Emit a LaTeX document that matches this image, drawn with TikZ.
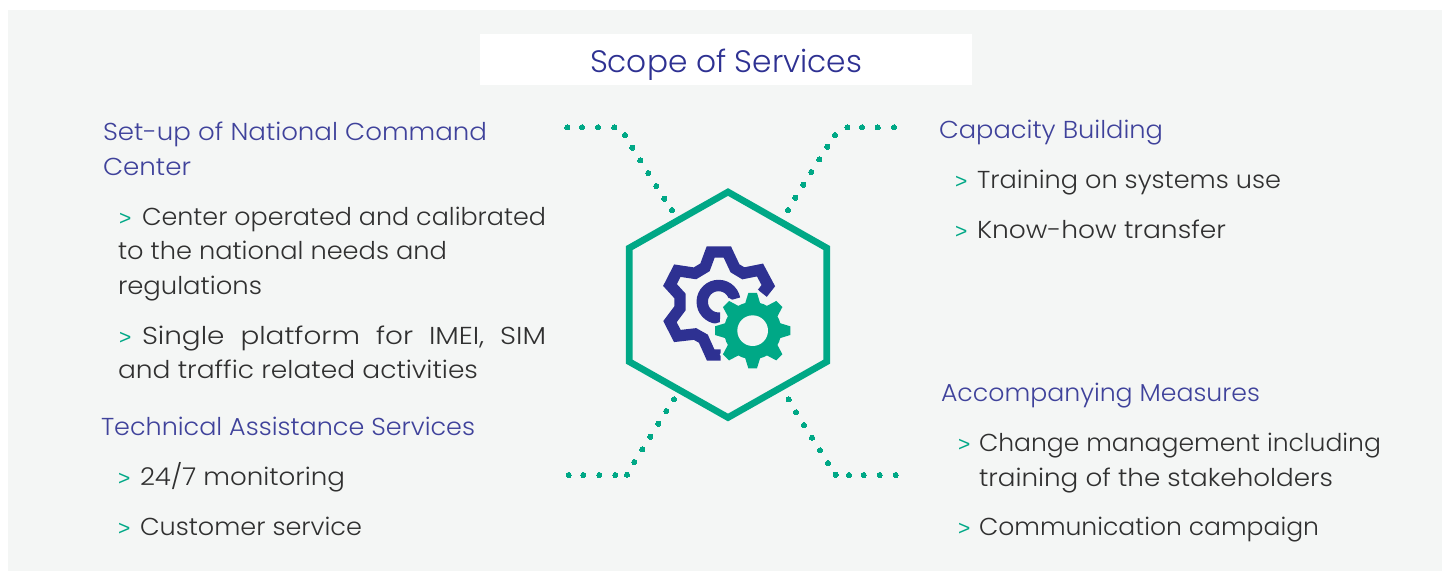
\documentclass[tikz,border=0pt]{standalone}
\usepackage{fontspec}
\setmainfont{Poppins}[UprightFont=* Light]
\newfontfamily\arrfont{Liberation Sans}
\definecolor{panel}{HTML}{F4F6F5}
\definecolor{teal}{HTML}{00A886}
\definecolor{navy}{HTML}{2E3192}
\definecolor{headc}{HTML}{3F429B}
\definecolor{ink}{HTML}{303030}
\newcommand{\fitw}[2]{\resizebox{#1pt}{\height}{#2}}
\tikzset{
  x=1pt,y=-1pt,
  txt/.style={anchor=base west,inner sep=0pt,outer sep=0pt,text=ink,font=\fontsize{24.5}{28}\selectfont},
  head/.style={txt,text=headc},
  arr/.style={anchor=base west,inner sep=0pt,outer sep=0pt,text=teal,font=\arrfont\fontsize{21}{24}\selectfont},
  dots/.style={teal,only marks,mark=*,mark size=2.6pt,mark options={draw=teal,fill=teal,line width=0pt}},
}
\begin{document}
\begin{tikzpicture}
\useasboundingbox (0,0) rectangle (1450,571);
\fill[white] (0,0) rectangle (1450,571);
\fill[panel] (8,10) rectangle (1442,571);
\fill[white] (480,34) rectangle (972,85);
\node[anchor=base,inner sep=0pt,text=navy,font=\fontsize{31}{36}\selectfont] (title) at (726,72) {\fitw{272}{Scope of Services}};

% hexagon
\draw[teal,line width=6.7pt,miter limit=10] (728,192) -- (826.7,248) -- (826.7,361.7) -- (728,417.5) -- (629.3,361.7) -- (629.3,248) -- cycle;

% dotted connectors
\draw[dots] plot coordinates {(567.3,127.3) (582,127.3) (598,127.3) (614.3,127.3) (625,135) (632.3,147.7) (640.3,160.3) (648.3,173) (656.3,186) (664.3,198.7) (672,210)};
\draw[dots] plot coordinates {(894,127.3) (877.7,127.3) (862,127.3) (847.3,127.3) (835,135) (827.3,146.7) (819.3,159.3) (811.3,172) (803.3,184.7) (795.3,197.7) (788,210)};
\draw[dots] plot coordinates {(568.7,475) (583.3,475) (599.3,475) (615.3,475) (627,474.7) (634.3,462) (642.3,449.3) (650.3,436.7) (658.3,423.7) (666.3,411) (674,399.3)};
\draw[dots] plot coordinates {(788.7,399.3) (796,412.3) (804,425) (812,437.7) (820,450.3) (828,463) (835.7,474.7) (849,475) (863.7,475) (879.7,475) (895.7,475)};

% gears
\begin{scope}[shift={(620,180)},x=0.3333pt,y=-0.3333pt]
\draw[navy,line width=11.4pt,miter limit=6]
 (302,525) -- (272,525) -- (250,476) -- (225,462) -- (172,468) -- (150,425) -- (180,385) -- (180,348) -- (150,315) -- (172,272) -- (225,280) -- (255,262) -- (272,216) -- (322,216) -- (345,265) -- (370,280) -- (420,270) -- (445,317) -- (427,340);
\draw[navy,line width=11.4pt] (344,357) arc[start angle=-10,delta angle=-265,radius=49];
\foreach \a in {0,45,...,315}
  \filldraw[panel,line width=5pt,rotate around={\a:(398,452)}] (385,339) -- (411,339) -- (422,375) -- (374,375) -- cycle;
\filldraw[panel,line width=5pt] (398,452) circle (85);
\foreach \a in {0,45,...,315}
  \fill[teal,rotate around={\a:(398,452)}] (385,339) -- (411,339) -- (422,375) -- (374,375) -- cycle;
\fill[teal] (398,452) circle (86);
\fill[panel] (398,452) circle (46);
\end{scope}

% left column
\node[head] (a1) at (103,140) {\fitw{384}{Set-up of National Command}};
\node[head] (a2) at (103,175) {\fitw{88}{Center}};
\node[arr]  (a3m) at (119,225) {>};
\node[txt]  (a3) at (142,225) {\fitw{404}{Center operated and calibrated}};
\node[txt]  (a4) at (118,259) {\fitw{329}{to the national needs and}};
\node[txt]  (a5) at (118,294) {\fitw{144}{regulations}};
\node[arr]  (a6m) at (119,344) {>};
\node[txt]  (a6) at (142,344) {\fitw{404}{Single\hspace{.3em} platform\hspace{.3em} for\hspace{.3em} IMEI,\hspace{.3em} SIM}};
\node[txt]  (a7) at (118,378) {\fitw{360}{and traffic related activities}};
\node[head] (b1) at (101,435) {\fitw{374}{Technical Assistance Services}};
\node[arr]  (b2m) at (118,485) {>};
\node[txt]  (b2) at (140,485) {\fitw{205}{24/7 monitoring}};
\node[arr]  (b3m) at (118,535) {>};
\node[txt]  (b3) at (140,535) {\fitw{222}{Customer service}};

% right column
\node[head] (c1) at (939,138) {\fitw{224}{Capacity Building}};
\node[arr]  (c2m) at (955,188) {>};
\node[txt]  (c2) at (977,188) {\fitw{304}{Training on systems use}};
\node[arr]  (c3m) at (955,238) {>};
\node[txt]  (c3) at (977,238) {\fitw{249}{Know-how transfer}};
\node[head] (d1) at (941,401) {\fitw{319}{Accompanying Measures}};
\node[arr]  (d2m) at (958,451) {>};
\node[txt]  (d2) at (979,451) {\fitw{402}{Change management including}};
\node[txt]  (d3) at (979,486) {\fitw{354}{training of the stakeholders}};
\node[arr]  (d4m) at (958,535) {>};
\node[txt]  (d4) at (979,535) {\fitw{340}{Communication campaign}};
\end{tikzpicture}
\end{document}
